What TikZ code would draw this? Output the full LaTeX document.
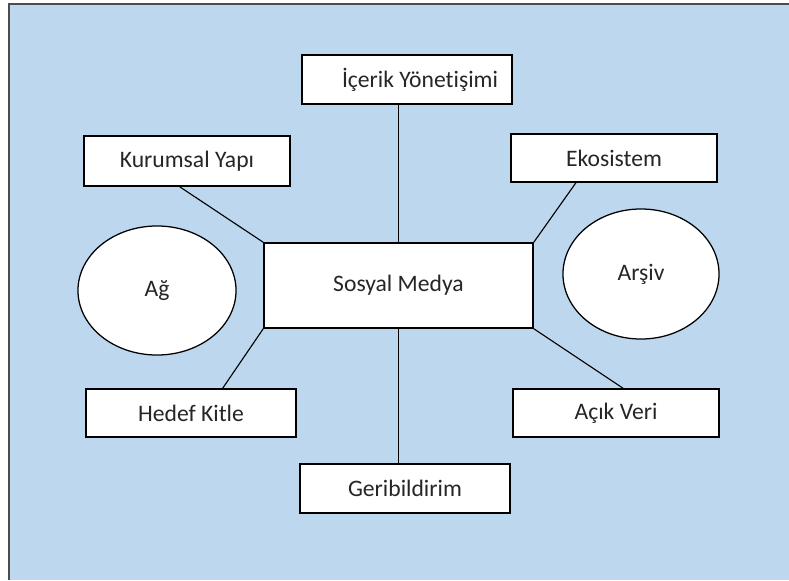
\documentclass[tikz,border=0pt]{standalone}
\usepackage{fontspec}
\setmainfont{Carlito}[Ligatures=NoCommon]
\usetikzlibrary{shapes.geometric}
\definecolor{panelblue}{HTML}{BDD7EE}
\definecolor{inkgray}{HTML}{262626}

\begin{document}
\begin{tikzpicture}[x=0.025cm, y=-0.025cm, font=\fontsize{16.8}{20}\selectfont, text=inkgray,
    topic/.style={draw, line width=1pt, fill=white, minimum width=5.2cm, minimum height=1.22cm, inner sep=0},
    blob/.style={draw, ellipse, line width=0.9pt, fill=white, inner sep=0},
    link/.style={line width=0.8pt}]
      \useasboundingbox (0,0) rectangle (789,580);
      \fill[panelblue] (9,4) rectangle (789,580);
      \draw[line width=1.8pt, black!70] (9,580) -- (9,4) -- (789,4);

      \node[topic, minimum width=6.725cm, minimum height=2.125cm] (SM) at (398.5,285.5) {Sosyal Medya};
      \node[topic, minimum width=5.25cm, minimum height=1.225cm] (IY) at (407,79.5) {\hspace*{0.65cm}İçerik Yönetişimi};
      \node[topic, minimum width=5.15cm, minimum height=1.25cm] (KY) at (187,161) {Kurumsal Yapı};
      \node[topic, minimum width=5.15cm, minimum height=1.2cm] (EK) at (614,158) {Ekosistem};
      \node[topic, minimum width=5.25cm, minimum height=1.2cm] (HK) at (191,413) {Hedef Kitle};
      \node[topic, minimum width=5.15cm, minimum height=1.2cm] (AV) at (616,413) {Açık Veri};
      \node[topic, minimum width=5.25cm, minimum height=1.225cm] (GB) at (405,488.5) {Geribildirim};
      \node[blob, minimum width=3.95cm, minimum height=3.225cm] (AG) at (157,290.5) {Ağ};
      \node[blob, minimum width=3.9cm, minimum height=3.25cm] (AR) at (641,274) {Arşiv};

      \draw[link] (SM.north) -- (SM.north |- IY.south);
      \draw[link] (KY.254) -- (SM.north west);
      \draw[link] (EK.213) -- (SM.north east);
      \draw[link] (HK.38) -- (SM.south west);
      \draw[link] (AV.74) -- (SM.south east);
      \draw[link] (SM.south) -- (SM.south |- GB.north);
    \end{tikzpicture}
\end{document}
